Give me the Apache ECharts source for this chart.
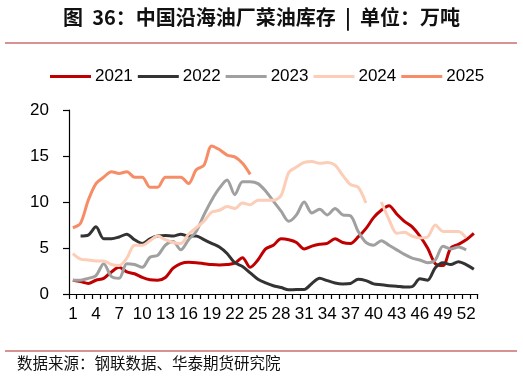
<!DOCTYPE html>
<html><head><meta charset="utf-8">
<script src="https://cdn.jsdelivr.net/npm/echarts@6/dist/echarts.min.js"></script>
<style>html,body{margin:0;padding:0;background:#fff}#c{width:523px;height:377px}</style>
</head><body><div id="c"></div>
<script>
const weeks = Array.from({length: 53}, (_, i) => String(i + 1));
const seriesNames = ['2021', '2022', '2023', '2024', '2025'];
const s2021 = [1.5,1.35,1.15,1.5,1.7,2.4,2.9,2.4,2.2,1.8,1.55,1.5,1.8,2.8,3.3,3.45,3.4,3.3,3.2,3.15,3.2,3.35,3.95,2.9,3.7,4.9,5.3,6.0,5.9,5.6,4.9,5.2,5.4,5.5,6.0,5.6,5.5,6.2,7.1,8.3,9.1,9.6,8.7,7.9,7.3,6.3,5.0,3.3,3.1,5.0,5.4,5.9,6.6];
const s2022 = [null,6.3,6.4,7.3,6.0,6.0,6.2,6.5,5.9,5.5,6.0,6.3,6.35,6.3,6.5,6.3,6.3,5.9,5.5,5.1,4.4,3.4,3.0,2.3,1.6,1.2,0.9,0.7,0.45,0.5,0.5,1.15,1.7,1.45,1.2,1.1,1.15,1.6,1.45,1.1,1.0,0.9,0.85,0.75,0.8,1.65,1.5,2.85,3.4,3.2,3.5,3.2,2.7];
const s2023 = [1.5,1.5,1.7,2.0,3.3,1.9,1.7,3.3,3.2,2.9,4.0,4.2,5.3,5.7,4.8,5.9,6.8,8.6,10.2,11.5,12.4,10.8,12.2,12.2,12.0,11.2,10.1,9.0,7.9,8.6,10.0,8.8,9.2,8.6,9.3,8.6,8.5,6.8,5.6,5.3,5.8,5.3,4.8,4.3,3.9,3.7,3.4,3.7,5.2,4.9,5.1,4.8,null];
const s2024 = [4.4,3.8,3.7,3.6,3.6,3.2,3.1,3.9,5.3,5.3,5.8,6.3,5.9,5.6,5.5,6.5,7.2,7.9,8.9,9.1,9.5,9.3,9.9,9.7,10.2,10.2,10.2,10.7,13.2,13.8,14.3,14.4,14.2,14.3,14.0,12.9,11.9,11.6,9.9,null,10.0,8.1,6.6,6.7,6.3,6.1,6.2,7.5,6.8,6.8,6.8,6.1,null];
const s2025 = [7.2,7.7,10.2,12.0,12.7,13.3,13.1,13.3,12.7,12.7,11.6,11.6,12.7,12.7,12.7,12.0,13.5,14.0,16.1,15.7,15.1,14.9,14.2,13.0,null,null,null,null,null,null,null,null,null,null,null,null,null,null,null,null,null,null,null,null,null,null,null,null,null,null,null,null,null];
const yTicks = [0, 5, 10, 15, 20];
const colors = ['#C00000', '#333333', '#A0A0A0', '#FCCDB7', '#F68D66'];
const allData = [s2021, s2022, s2023, s2024, s2025];

const chart = echarts.init(document.getElementById('c'), null, {renderer: 'canvas'});
const txt = '#000';
chart.setOption({
  animation: false,
  backgroundColor: '#fff',
  title: {
    text: '图  36：中国沿海油厂菜油库存  |  单位：万吨',
    left: 'center', top: 2,
    textStyle: {fontFamily: 'Noto Sans CJK SC', fontWeight: 'bold', fontSize: 20, color: '#111'}
  },
  graphic: [
    {type: 'line', shape: {x1: 5, y1: 43, x2: 517, y2: 43}, style: {stroke: '#CC6E6E', lineWidth: 1.5}},
    {type: 'line', shape: {x1: 5, y1: 351, x2: 517, y2: 351}, style: {stroke: '#CC6E6E', lineWidth: 1.5}},
    {type: 'text', left: 17, top: 355, style: {text: '数据来源：钢联数据、华泰期货研究院', fontFamily: 'Noto Sans CJK SC', fontSize: 15.5, fill: '#111'}}
  ],
  legend: {
    data: seriesNames,
    left: 45, top: 63,
    icon: 'rect', itemWidth: 41, itemHeight: 3, itemGap: 5,
    textStyle: {fontFamily: 'Liberation Sans', fontSize: 17, color: txt, padding: [0, 0, 0, -1]}
  },
  grid: {left: 69, right: 45.3, top: 110, bottom: 83, containLabel: false},
  xAxis: {
    type: 'category', data: weeks, boundaryGap: true,
    axisLine: {lineStyle: {color: '#000', width: 1.2}},
    axisTick: {show: true, interval: 0, length: 5, lineStyle: {color: '#000', width: 1.2}},
    axisLabel: {interval: 2, margin: 12, fontFamily: 'Liberation Sans', fontSize: 17, color: txt},
    splitLine: {show: false}
  },
  yAxis: {
    type: 'value', min: yTicks[0], max: yTicks[yTicks.length - 1], interval: 5,
    axisLine: {show: true, lineStyle: {color: '#000', width: 1.2}},
    axisTick: {show: true, length: 6, lineStyle: {color: '#000', width: 1.2}},
    axisLabel: {margin: 20, fontFamily: 'Liberation Sans', fontSize: 17, color: txt},
    splitLine: {show: false}
  },
  series: seriesNames.map((n, i) => ({
    name: n, type: 'line', data: allData[i], smooth: 0.3, symbol: 'none', showSymbol: false,
    connectNulls: false,
    lineStyle: {color: colors[i], width: 3},
    itemStyle: {color: colors[i]}
  }))
});
</script></body></html>
